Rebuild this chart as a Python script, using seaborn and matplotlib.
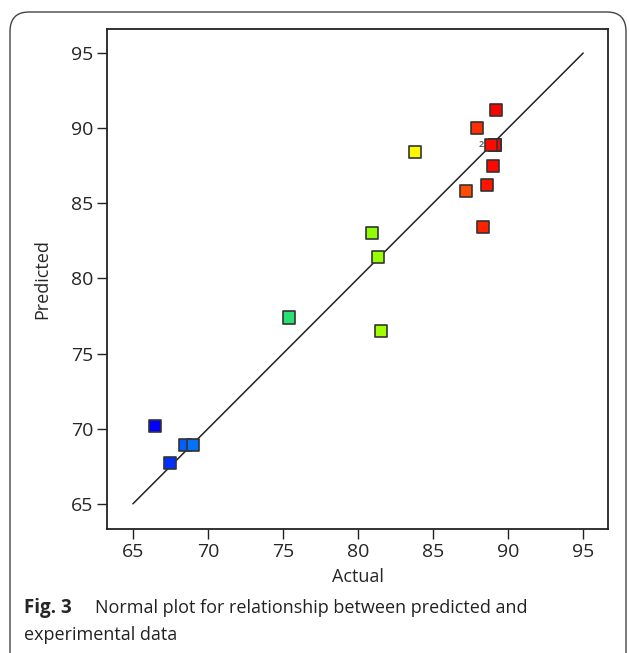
import matplotlib
matplotlib.use("Agg")
import matplotlib.pyplot as plt
from matplotlib.colors import LinearSegmentedColormap
from matplotlib.patches import FancyBboxPatch
import numpy as np
import pandas as pd
import seaborn as sns

# actual vs predicted values
actual = [89.2, 87.9, 83.8, 89.1, 88.85, 89.0, 88.6, 87.2, 88.3,
          80.9, 81.3, 81.5, 75.4, 66.5, 68.5, 69.0, 67.5]
predicted = [91.2, 90.0, 88.4, 88.9, 88.9, 87.5, 86.2, 85.8, 83.4,
             83.0, 81.4, 76.5, 77.4, 70.2, 68.9, 68.9, 67.7]
ticks = [65, 70, 75, 80, 85, 90, 95]

d = pd.DataFrame({'Actual': actual, 'Predicted': predicted})

sns.set_style("ticks")
plt.rcParams['font.family'] = ['Open Sans', 'DejaVu Sans']

# blue -> green -> yellow -> red gradient like Design-Expert
cmap = LinearSegmentedColormap.from_list('dx', [
    (0.0, (0, 0, 1)),
    (0.1, (0, 0.43, 1)),
    (0.39, (0.15, 0.88, 0.45)),
    (0.65, (0.59, 1, 0)),
    (0.76, (1, 1, 0)),
    (0.91, (1, 0.31, 0)),
    (1.0, (1, 0, 0)),
])

fig = plt.figure(figsize=(6.29, 6.53), dpi=100)
ax = fig.add_axes([0.170, 0.190, 0.797, 0.7656])

ax.plot([65, 95], [65, 95], color='#222222', lw=1.1, zorder=1)

# the second of the two coincident points is drawn dark underneath
ax.scatter([89.15], [88.9], marker='s', s=75, color='black',
           edgecolor='black', linewidth=1.2, zorder=2)
sns.scatterplot(x='Actual', y='Predicted', data=d, hue='Actual', palette=cmap,
                hue_norm=(66.5, 89.2), marker='s', s=75, edgecolor='#333333',
                linewidth=1.2, legend=False, ax=ax, zorder=3)
ax.text(88.2, 88.9, '2', fontsize=6.5, color='#666666', ha='center',
        va='center', fontweight='bold')

ax.set_xlim(63.27, 96.67)
ax.set_ylim(63.33, 96.6)
ax.set_xticks(ticks)
ax.set_yticks(ticks)
ax.tick_params(direction='out', length=7, width=1, labelsize=14, pad=3,
               color='#222222')
for s in ax.spines.values():
    s.set_linewidth(1.3)
    s.set_color('#222222')
ax.set_xlabel('Actual', fontsize=13, labelpad=5)
ax.set_ylabel('Predicted', fontsize=13, labelpad=14)

# caption box
box = FancyBboxPatch((10 / 629, -0.05), 616 / 629, 1 - 12 / 653 + 0.05,
                     boxstyle='round,pad=0,rounding_size=0.03',
                     transform=fig.transFigure, fill=False,
                     edgecolor='#444444', lw=1.0, clip_on=False)
fig.patches.append(box)

fig.text(24 / 629, 1 - 608 / 653, 'Fig. 3', fontsize=13.5, fontweight='bold',
         va='center', ha='left')
fig.text(95 / 629, 1 - 608 / 653,
         'Normal plot for relationship between predicted and',
         fontsize=13, va='center', ha='left', color='#222222')
fig.text(24 / 629, 1 - 635 / 653, 'experimental data', fontsize=13,
         va='center', ha='left', color='#222222')

fig.savefig('out.png', dpi=100)
